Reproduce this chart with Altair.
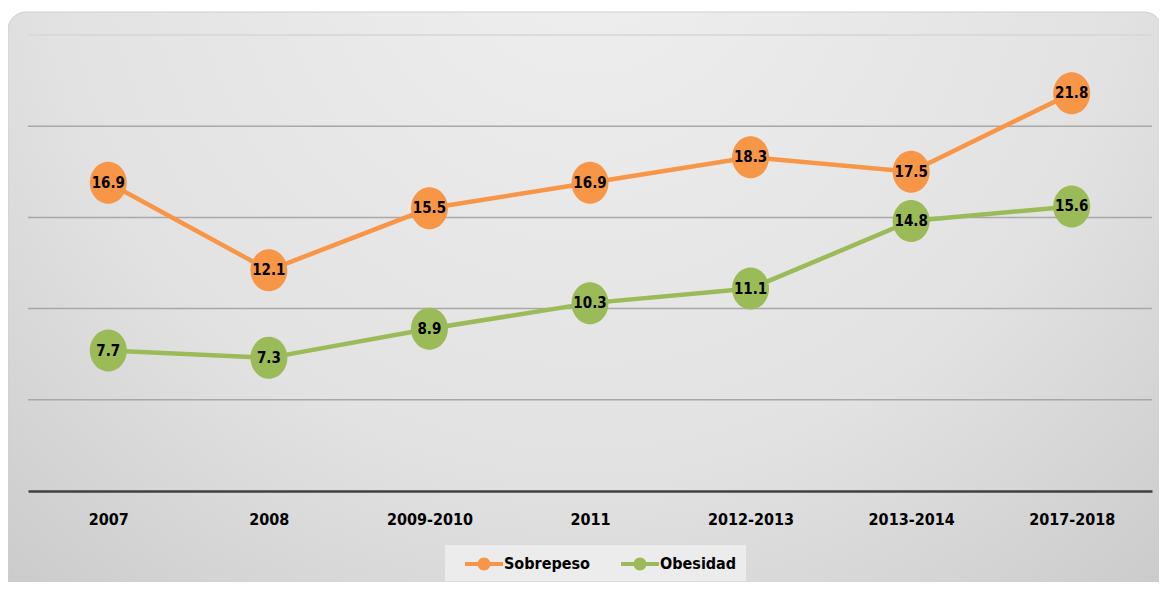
import altair as alt
import pandas as pd

periods = ["2007", "2008", "2009-2010", "2011", "2012-2013", "2013-2014", "2017-2018"]
sobrepeso = [16.9, 12.1, 15.5, 16.9, 18.3, 17.5, 21.8]
obesidad = [7.7, 7.3, 8.9, 10.3, 11.1, 14.8, 15.6]
series = ["Sobrepeso", "Obesidad"]
colors = ["#F79646", "#9BBB59"]
grid_values = [5, 10, 15, 20, 25]

FONT = "'Liberation Sans Narrow', 'DejaVu Sans Condensed', 'Open Sans', sans-serif"

rows = []
for name, vals in zip(series, [sobrepeso, obesidad]):
    for p, v in zip(periods, vals):
        rows.append({"periodo": p, "serie": name, "valor": v})
df = pd.DataFrame(rows)
grid_df = pd.DataFrame({"g": grid_values})

x_enc = alt.X("periodo:N", sort=periods, title=None,
              axis=alt.Axis(labelAngle=0, labelFont=FONT, labelFontSize=16,
                            labelFontWeight="bold", labelColor="#000000",
                            labelPadding=20, ticks=False, domain=True,
                            domainColor="#404040", domainWidth=2.5,
                            grid=False, zindex=1))
y_scale = alt.Scale(domain=[0, 25], nice=False, zero=True)
y_enc = alt.Y("valor:Q", scale=y_scale, axis=None)

legend_path = ("M0.1,-0.2 L3.9,-0.2 L3.9,0.2 L0.1,0.2 Z "
               "M2.65,0 A0.65,0.65 0 1,1 1.35,0 A0.65,0.65 0 1,1 2.65,0 Z")
ellipse = "M0,-1 A0.88,1 0 1,1 0,1 A0.88,1 0 1,1 0,-1 Z"

color_enc = alt.Color(
    "serie:N", scale=alt.Scale(domain=series, range=colors),
    legend=alt.Legend(orient="none", legendX=417, legendY=510,
                      direction="horizontal", title=None,
                      fillColor="#ececec", padding=9,
                      symbolType=legend_path, symbolSize=400,
                      symbolStrokeWidth=0, symbolOpacity=1, labelOffset=30,
                      columnPadding=20,
                      labelFont=FONT, labelFontSize=16,
                      labelFontWeight="bold", labelColor="#000000"))

bg = alt.Chart(pd.DataFrame({"a": [0]})).mark_rect(
    cornerRadius=18,
    stroke="#cfcfcf", strokeWidth=1,
    fill={"gradient": "radial",
          "x1": 0.5, "y1": 0.15, "r1": 0.0,
          "x2": 0.5, "y2": 0.15, "r2": 0.85,
          "stops": [{"offset": 0, "color": "#efefef"},
                    {"offset": 0.55, "color": "#e2e2e2"},
                    {"offset": 1, "color": "#c4c4c4"}]},
).encode(x=alt.value(-20), x2=alt.value(1134), y=alt.value(-23), y2=alt.value(620))

grid = alt.Chart(grid_df).mark_rule(strokeWidth=1.5).encode(
    y=alt.Y("g:Q", scale=y_scale, axis=None),
    x=alt.value(0), x2=alt.value(1124),
    strokeOpacity=alt.value(1),
    stroke=alt.condition(alt.datum.g == 25, alt.value("#d6d6d6"), alt.value("#a8a8a8")),
)

base = alt.Chart(df)

lines = base.mark_line(strokeWidth=4.5).encode(
    x=x_enc, y=y_enc, color=color_enc,
)

points = base.mark_point(shape=ellipse, filled=True, size=1764, opacity=1, strokeWidth=0).encode(
    x=x_enc, y=y_enc, color=color_enc,
)

labels = base.mark_text(font=FONT, fontSize=15, fontWeight="bold", color="#000000",
                        baseline="middle", align="center").encode(
    x=x_enc, y=y_enc,
    text=alt.Text("valor:Q", format=".1f"),
)

chart = alt.layer(bg, grid, lines, points, labels).properties(
    width=1124, height=456,
    padding={"left": 20, "top": 27, "right": 7, "bottom": 91},
    autosize=alt.AutoSizeParams(type="none"),
    background="#ffffff",
).configure_view(stroke=None)

chart.save("out.html", embed_options={"renderer": "svg", "actions": False})
